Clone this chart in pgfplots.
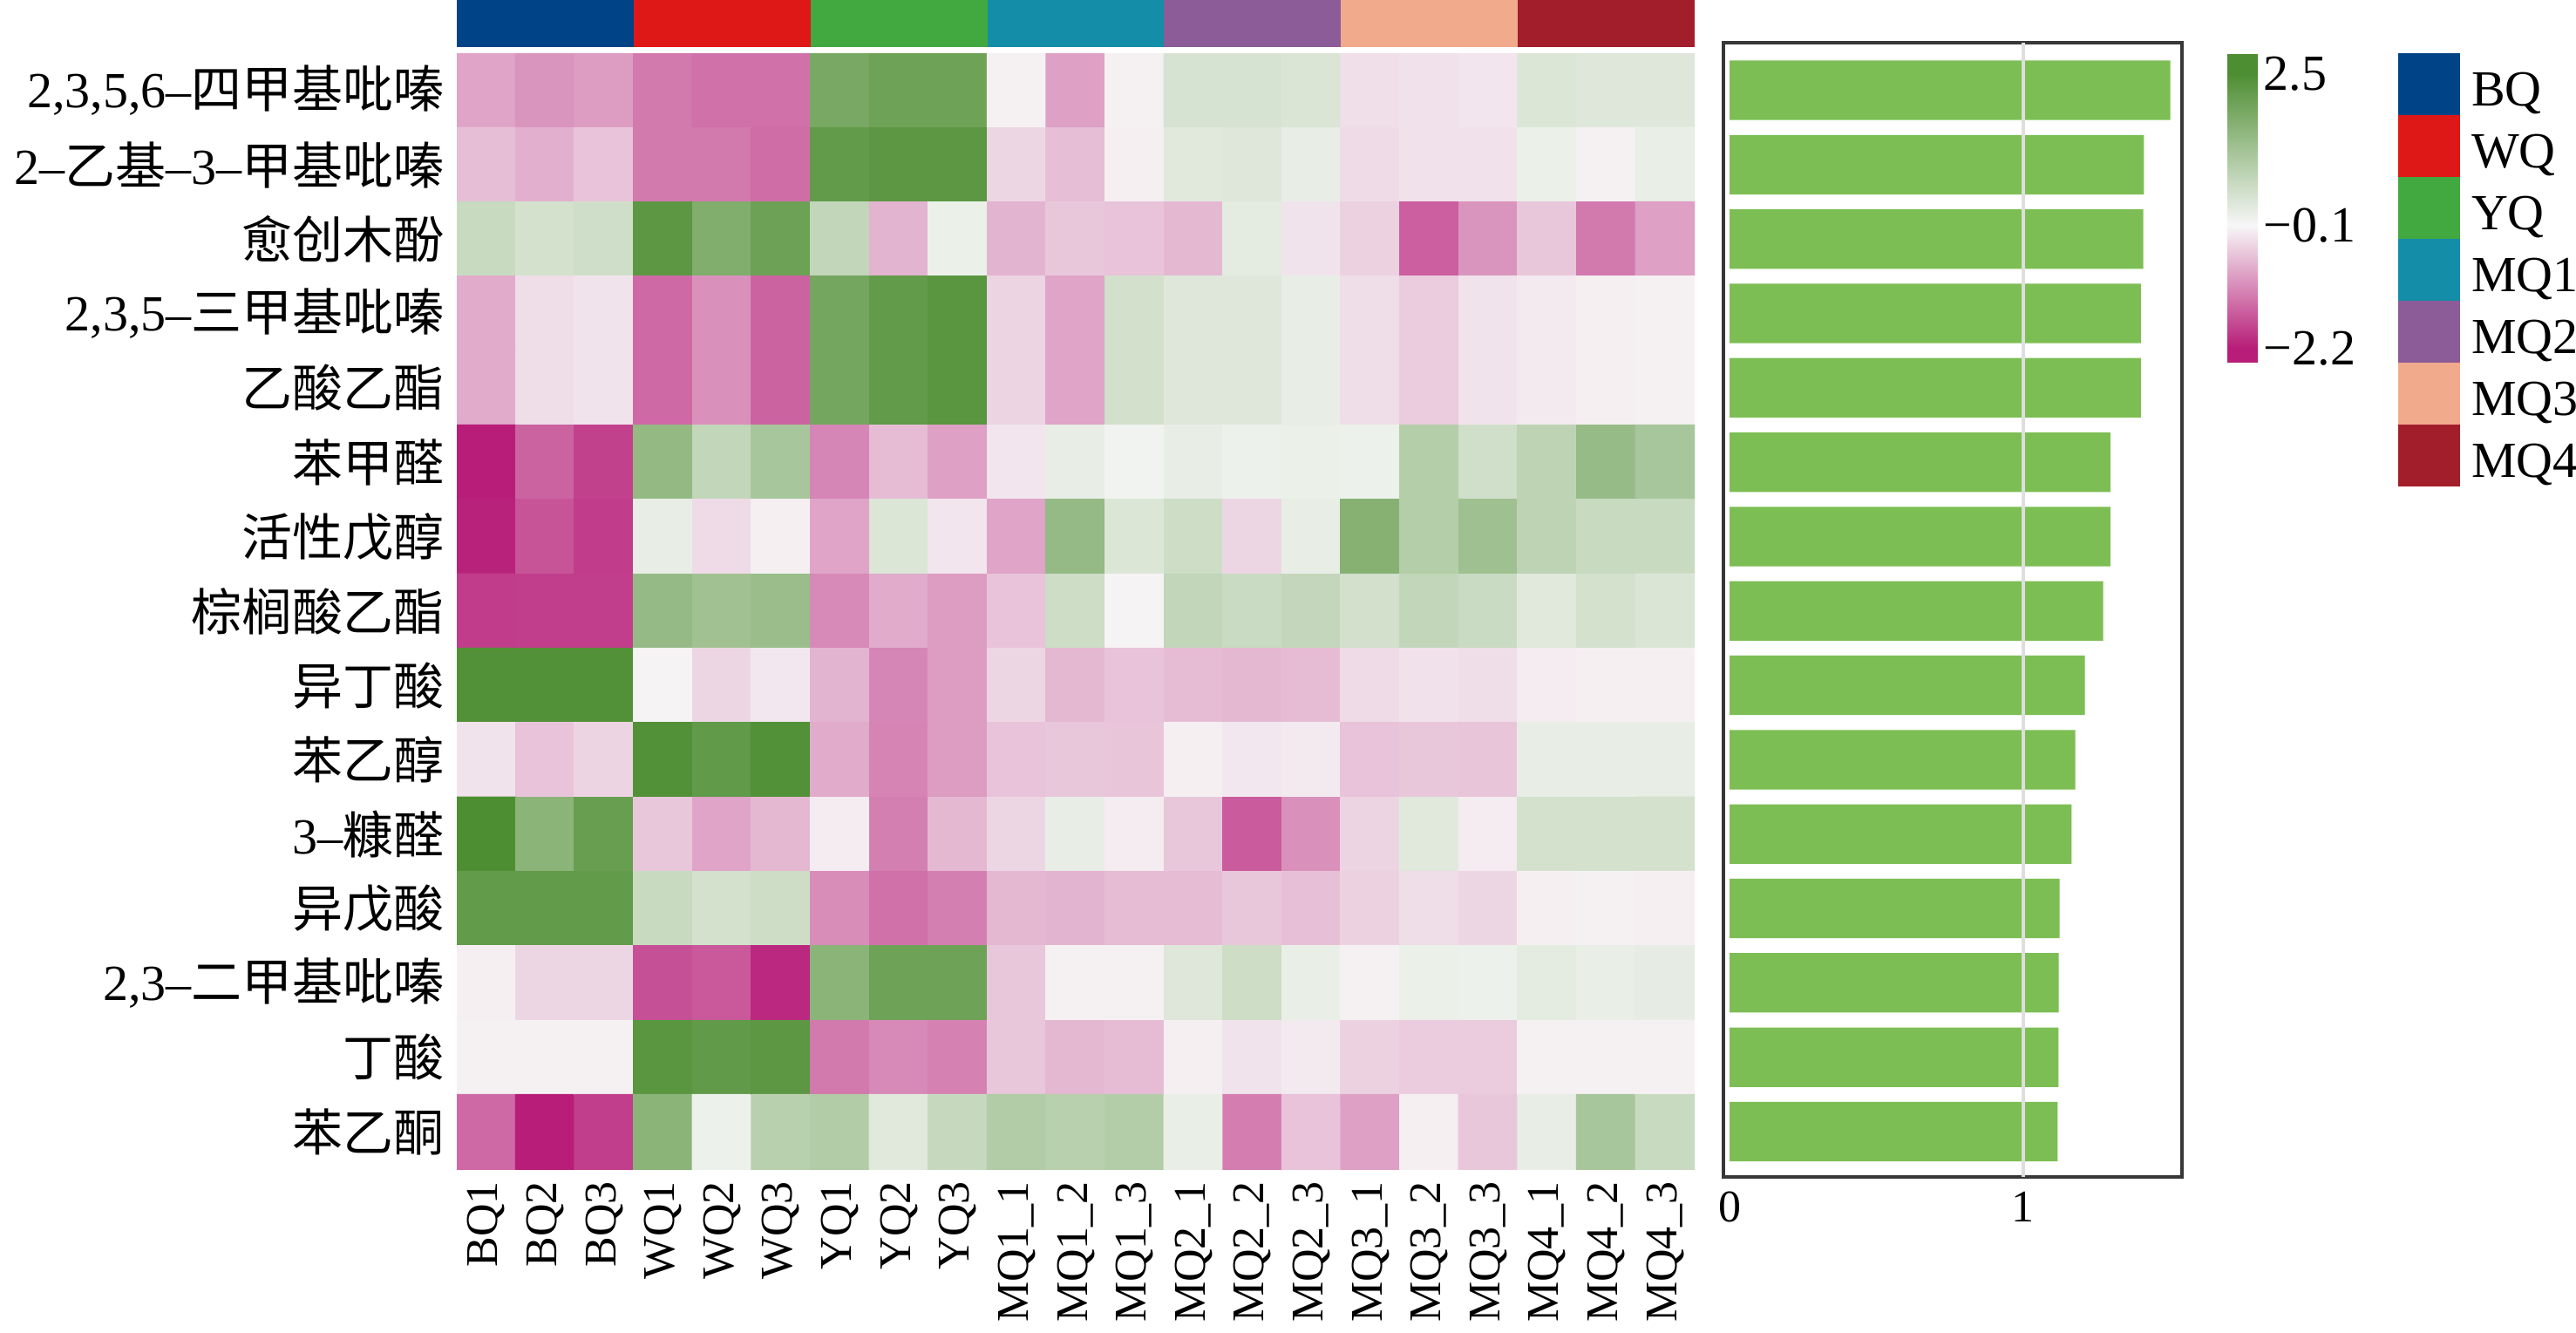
\documentclass[border=0pt]{standalone}
\usepackage{pgfplots}
\pgfplotsset{compat=1.18}
\usepackage{fontspec}
\setmainfont{Liberation Serif}
\newfontfamily\cjk{Noto Sans CJK SC}
\newcommand{\C}[1]{{\cjk #1}}
\definecolor{cBQ}{RGB}{0,68,135}
\definecolor{cWQ}{RGB}{222,24,22}
\definecolor{cYQ}{RGB}{66,168,64}
\definecolor{cMQa}{RGB}{20,142,168}
\definecolor{cMQb}{RGB}{140,92,152}
\definecolor{cMQc}{RGB}{242,170,140}
\definecolor{cMQd}{RGB}{162,30,42}
\definecolor{barc}{RGB}{124,190,83}
\definecolor{framec}{RGB}{55,55,55}
\definecolor{gridc}{RGB}{222,222,222}
\pgfplotsset{
  colormap={pg}{rgb255(0cm)=(184,30,121) rgb255(5cm)=(184,30,121) rgb255(47cm)=(247,247,247) rgb255(99cm)=(78,142,50) rgb255(106cm)=(78,142,50)},
}
\begin{document}
\begin{tikzpicture}
% ---------------- group colour strip + legend ----------------
\begin{axis}[at={(131pt,0pt)}, anchor=north west, scale only axis,
  width=355pt, height=13.5pt,
  xmin=-0.5, xmax=20.5, ymin=0, ymax=1, hide axis,
  legend image code/.code={\fill[#1] (0pt,-6.7pt) rectangle (17.75pt,11.05pt);},
  legend style={at={(1.56831,-0.12963)}, anchor=north west, draw=none, fill=none,
    inner sep=0pt, outer sep=0pt, row sep=0pt, column sep=3.25pt,
    font=\fontsize{14.5}{16}\selectfont, nodes={inner sep=0pt}, cells={anchor=west}},
  legend cell align=left]
\addplot[fill=cBQ, draw=none] coordinates {(-0.5,1) (2.5,1)} \closedcycle;
\addlegendentry{BQ}
\addplot[fill=cWQ, draw=none] coordinates {(2.5,1) (5.5,1)} \closedcycle;
\addlegendentry{WQ}
\addplot[fill=cYQ, draw=none] coordinates {(5.5,1) (8.5,1)} \closedcycle;
\addlegendentry{YQ}
\addplot[fill=cMQa, draw=none] coordinates {(8.5,1) (11.5,1)} \closedcycle;
\addlegendentry{MQ1}
\addplot[fill=cMQb, draw=none] coordinates {(11.5,1) (14.5,1)} \closedcycle;
\addlegendentry{MQ2}
\addplot[fill=cMQc, draw=none] coordinates {(14.5,1) (17.5,1)} \closedcycle;
\addlegendentry{MQ3}
\addplot[fill=cMQd, draw=none] coordinates {(17.5,1) (20.5,1)} \closedcycle;
\addlegendentry{MQ4}
\end{axis}
% ---------------- heatmap ----------------
\begin{axis}[at={(131pt,-15.25pt)}, anchor=north west, scale only axis,
  width=355pt, height=320pt,
  xmin=-0.5, xmax=20.5, ymin=-0.5, ymax=14.5, y dir=reverse,
  axis line style={draw=none}, major tick length=0pt,
  xtick={0,...,20}, ytick={0,...,14},
  xticklabels={BQ1,BQ2,BQ3,WQ1,WQ2,WQ3,YQ1,YQ2,YQ3,MQ1\_1,MQ1\_2,MQ1\_3,MQ2\_1,MQ2\_2,MQ2\_3,MQ3\_1,MQ3\_2,MQ3\_3,MQ4\_1,MQ4\_2,MQ4\_3},
  yticklabels={
    {2,3,5,6–\C{四甲基吡嗪}},
    {2–\C{乙基}–3–\C{甲基吡嗪}},
    {\C{愈创木酚}},
    {2,3,5–\C{三甲基吡嗪}},
    {\C{乙酸乙酯}},
    {\C{苯甲醛}},
    {\C{活性戊醇}},
    {\C{棕榈酸乙酯}},
    {\C{异丁酸}},
    {\C{苯乙醇}},
    {3–\C{糠醛}},
    {\C{异戊酸}},
    {2,3–\C{二甲基吡嗪}},
    {\C{丁酸}},
    {\C{苯乙酮}}},
  xticklabel style={rotate=90, anchor=east, font=\fontsize{13}{14}\selectfont},
  yticklabel style={anchor=east, font=\fontsize{14.5}{16}\selectfont},
  colormap name=pg, point meta min=-2.45, point meta max=2.85,
  colorbar, colorbar shift/.style={xshift=152.75pt},
  colorbar style={at={(parent axis.north east)}, anchor=north west, scale only axis,
    width=8.75pt, height=88.75pt, axis line style={draw=none}, major tick length=0pt,
    ytick={-2.2,-0.1,2.5}, yticklabels={−2.2,−0.1,2.5},
    yticklabel style={font=\fontsize{14.5}{16}\selectfont, inner sep=1.5pt}},
]
\addplot[matrix plot*, mesh/cols=21, point meta=explicit] coordinates {
(0,0)[-0.90] (1,0)[-1.05] (2,0)[-0.98] (3,0)[-1.32] (4,0)[-1.40] (5,0)[-1.40] (6,0)[1.85] (7,0)[2.01] (8,0)[2.01] (9,0)[-0.16] (10,0)[-0.94] (11,0)[-0.16] (12,0)[0.39] (13,0)[0.39] (14,0)[0.34] (15,0)[-0.33] (16,0)[-0.31] (17,0)[-0.27] (18,0)[0.32] (19,0)[0.29] (20,0)[0.29]
(0,1)[-0.65] (1,1)[-0.79] (2,1)[-0.60] (3,1)[-1.32] (4,1)[-1.32] (5,1)[-1.44] (6,1)[2.19] (7,1)[2.27] (8,1)[2.27] (9,1)[-0.42] (10,1)[-0.65] (11,1)[-0.18] (12,1)[0.24] (13,1)[0.29] (14,1)[0.13] (15,1)[-0.37] (16,1)[-0.31] (17,1)[-0.31] (18,1)[0.08] (19,1)[-0.16] (20,1)[0.11]
(0,2)[0.63] (1,2)[0.45] (2,2)[0.52] (3,2)[2.27] (4,2)[1.72] (5,2)[2.03] (6,2)[0.71] (7,2)[-0.75] (8,2)[0.08] (9,2)[-0.75] (10,2)[-0.56] (11,2)[-0.60] (12,2)[-0.71] (13,2)[0.19] (14,2)[-0.29] (15,2)[-0.46] (16,2)[-1.57] (17,2)[-1.05] (18,2)[-0.56] (19,2)[-1.32] (20,2)[-0.94]
(0,3)[-0.84] (1,3)[-0.35] (2,3)[-0.29] (3,3)[-1.47] (4,3)[-1.09] (5,3)[-1.53] (6,3)[1.90] (7,3)[2.19] (8,3)[2.32] (9,3)[-0.44] (10,3)[-0.90] (11,3)[0.47] (12,3)[0.29] (13,3)[0.29] (14,3)[0.13] (15,3)[-0.35] (16,3)[-0.52] (17,3)[-0.29] (18,3)[-0.23] (19,3)[-0.18] (20,3)[-0.16]
(0,4)[-0.84] (1,4)[-0.35] (2,4)[-0.29] (3,4)[-1.47] (4,4)[-1.09] (5,4)[-1.53] (6,4)[1.90] (7,4)[2.19] (8,4)[2.32] (9,4)[-0.44] (10,4)[-0.90] (11,4)[0.47] (12,4)[0.29] (13,4)[0.29] (14,4)[0.13] (15,4)[-0.35] (16,4)[-0.52] (17,4)[-0.29] (18,4)[-0.23] (19,4)[-0.18] (20,4)[-0.16]
(0,5)[-2.20] (1,5)[-1.53] (2,5)[-1.86] (3,5)[1.43] (4,5)[0.71] (5,5)[1.12] (6,5)[-1.19] (7,5)[-0.67] (8,5)[-0.94] (9,5)[-0.27] (10,5)[0.13] (11,5)[0.00] (12,5)[0.13] (13,5)[0.06] (14,5)[0.08] (15,5)[0.06] (16,5)[0.91] (17,5)[0.50] (18,5)[0.78] (19,5)[1.38] (20,5)[1.12]
(0,6)[-2.16] (1,6)[-1.68] (2,6)[-1.91] (3,6)[0.13] (4,6)[-0.37] (5,6)[-0.18] (6,6)[-0.90] (7,6)[0.32] (8,6)[-0.27] (9,6)[-0.90] (10,6)[1.41] (11,6)[0.32] (12,6)[0.55] (13,6)[-0.42] (14,6)[0.13] (15,6)[1.64] (16,6)[0.91] (17,6)[1.25] (18,6)[0.78] (19,6)[0.63] (20,6)[0.63]
(0,7)[-1.91] (1,7)[-1.89] (2,7)[-1.89] (3,7)[1.41] (4,7)[1.23] (5,7)[1.33] (6,7)[-1.15] (7,7)[-0.84] (8,7)[-0.98] (9,7)[-0.60] (10,7)[0.55] (11,7)[-0.14] (12,7)[0.71] (13,7)[0.60] (14,7)[0.68] (15,7)[0.47] (16,7)[0.71] (17,7)[0.60] (18,7)[0.24] (19,7)[0.45] (20,7)[0.34]
(0,8)[2.42] (1,8)[2.42] (2,8)[2.42] (3,8)[-0.14] (4,8)[-0.42] (5,8)[-0.25] (6,8)[-0.75] (7,8)[-1.19] (8,8)[-0.98] (9,8)[-0.42] (10,8)[-0.71] (11,8)[-0.60] (12,8)[-0.67] (13,8)[-0.71] (14,8)[-0.67] (15,8)[-0.37] (16,8)[-0.31] (17,8)[-0.35] (18,8)[-0.21] (19,8)[-0.18] (20,8)[-0.18]
(0,9)[-0.29] (1,9)[-0.60] (2,9)[-0.44] (3,9)[2.42] (4,9)[2.21] (5,9)[2.42] (6,9)[-0.84] (7,9)[-1.21] (8,9)[-0.98] (9,9)[-0.60] (10,9)[-0.56] (11,9)[-0.58] (12,9)[-0.18] (13,9)[-0.25] (14,9)[-0.23] (15,9)[-0.60] (16,9)[-0.56] (17,9)[-0.58] (18,9)[0.13] (19,9)[0.13] (20,9)[0.13]
(0,10)[2.50] (1,10)[1.56] (2,10)[2.11] (3,10)[-0.56] (4,10)[-0.90] (5,10)[-0.71] (6,10)[-0.21] (7,10)[-1.26] (8,10)[-0.71] (9,10)[-0.42] (10,10)[0.13] (11,10)[-0.21] (12,10)[-0.56] (13,10)[-1.61] (14,10)[-1.09] (15,10)[-0.44] (16,10)[0.24] (17,10)[-0.21] (18,10)[0.45] (19,10)[0.45] (20,10)[0.45]
(0,11)[2.19] (1,11)[2.19] (2,11)[2.19] (3,11)[0.63] (4,11)[0.45] (5,11)[0.55] (6,11)[-1.13] (7,11)[-1.40] (8,11)[-1.26] (9,11)[-0.71] (10,11)[-0.75] (11,11)[-0.67] (12,11)[-0.67] (13,11)[-0.56] (14,11)[-0.63] (15,11)[-0.46] (16,11)[-0.35] (17,11)[-0.42] (18,11)[-0.18] (19,11)[-0.16] (20,11)[-0.18]
(0,12)[-0.18] (1,12)[-0.42] (2,12)[-0.42] (3,12)[-1.72] (4,12)[-1.63] (5,12)[-2.10] (6,12)[1.56] (7,12)[2.01] (8,12)[2.01] (9,12)[-0.56] (10,12)[-0.16] (11,12)[-0.16] (12,12)[0.29] (13,12)[0.55] (14,12)[0.11] (15,12)[-0.16] (16,12)[0.08] (17,12)[0.06] (18,12)[0.19] (19,12)[0.11] (20,12)[0.16]
(0,13)[-0.16] (1,13)[-0.16] (2,13)[-0.16] (3,13)[2.32] (4,13)[2.21] (5,13)[2.27] (6,13)[-1.32] (7,13)[-1.15] (8,13)[-1.23] (9,13)[-0.56] (10,13)[-0.71] (11,13)[-0.67] (12,13)[-0.18] (13,13)[-0.29] (14,13)[-0.23] (15,13)[-0.46] (16,13)[-0.52] (17,13)[-0.52] (18,13)[-0.16] (19,13)[-0.16] (20,13)[-0.16]
(0,14)[-1.47] (1,14)[-2.20] (2,14)[-1.89] (3,14)[1.56] (4,14)[0.06] (5,14)[0.86] (6,14)[0.97] (7,14)[0.24] (8,14)[0.65] (9,14)[0.97] (10,14)[0.86] (11,14)[0.94] (12,14)[0.11] (13,14)[-1.28] (14,14)[-0.60] (15,14)[-0.94] (16,14)[-0.18] (17,14)[-0.56] (18,14)[0.13] (19,14)[1.12] (20,14)[0.63]
};
\end{axis}
% ---------------- bar chart ----------------
\begin{axis}[at={(494.25pt,-12.25pt)}, anchor=north west, scale only axis,
  width=131.5pt, height=325.25pt,
  xmin=-0.021, xmax=1.542, ymin=-0.64, ymax=14.61, y dir=reverse,
  ytick=\empty, xtick={0,1}, xticklabels={0,1}, major tick length=0pt,
  axis line style={draw=framec, line width=1.1pt},
  xticklabel style={font=\fontsize{13}{14}\selectfont, inner sep=4pt}]
\addplot[xbar, bar width=0.8, fill=barc, draw=none] coordinates {
(1.502,0) (1.412,1) (1.410,2) (1.402,3) (1.402,4) (1.298,5) (1.298,6) (1.273,7)
(1.211,8) (1.178,9) (1.166,10) (1.125,11) (1.122,12) (1.121,13) (1.118,14)};
\addplot[gridc, line width=1pt] coordinates {(1,-0.64) (1,14.61)};
\end{axis}
\pgfresetboundingbox
\path[use as bounding box] (0pt,0pt) rectangle (738.75pt,-382.25pt);
\end{tikzpicture}
\end{document}
